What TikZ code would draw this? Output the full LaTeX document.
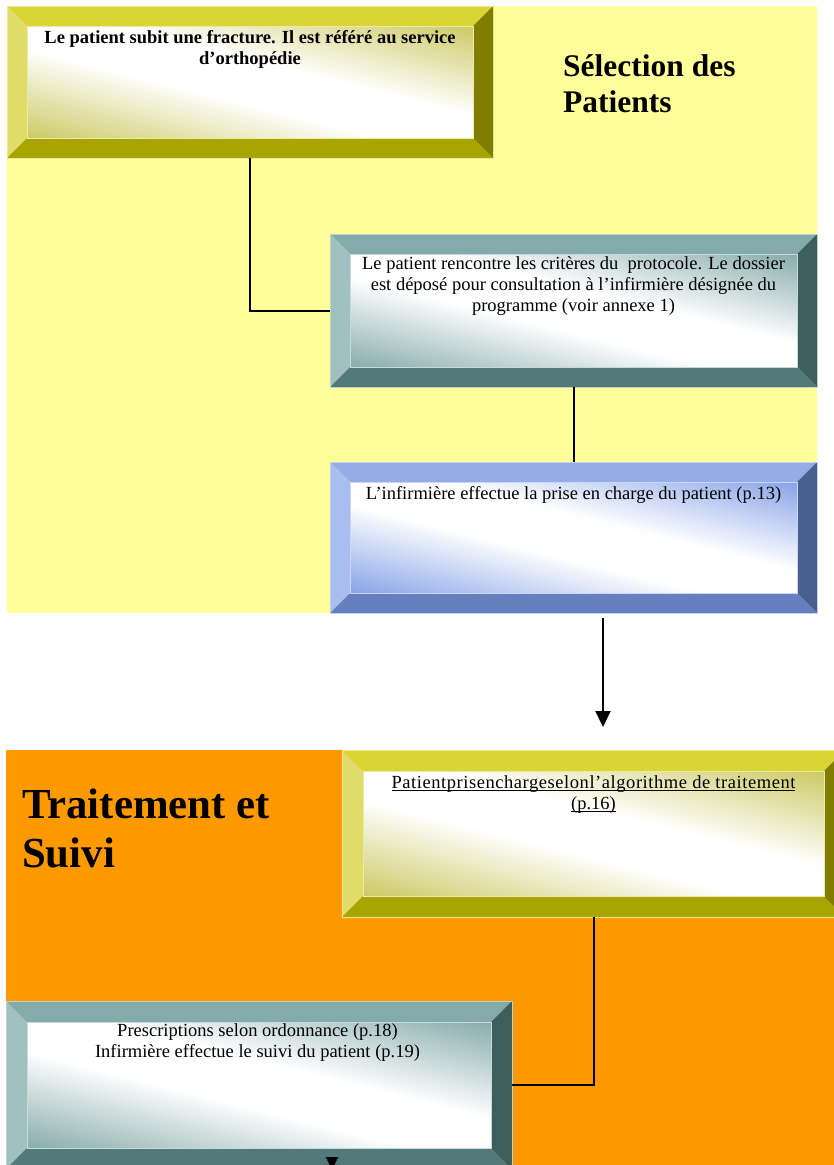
\documentclass[tikz,border=0pt]{standalone}
\usepackage{fontspec}
\setmainfont{Liberation Serif}
\usetikzlibrary{calc,arrows.meta}
\definecolor{bgyellow}{HTML}{FFFF99}
\definecolor{bgorange}{HTML}{FF9900}
\definecolor{oT}{HTML}{D9D633}
\definecolor{oL}{HTML}{E0DC68}
\definecolor{oB}{HTML}{A8A500}
\definecolor{oR}{HTML}{807D00}
\definecolor{oF}{HTML}{C9C65A}
\definecolor{tT}{HTML}{84ABAB}
\definecolor{tL}{HTML}{A1C1C1}
\definecolor{tB}{HTML}{527A7A}
\definecolor{tR}{HTML}{3E5E5E}
\definecolor{tF}{HTML}{80A6A6}
\definecolor{uT}{HTML}{94ACE8}
\definecolor{uL}{HTML}{A9BDF0}
\definecolor{uB}{HTML}{6680BF}
\definecolor{uR}{HTML}{4A5E8F}
\definecolor{uF}{HTML}{7F9DE6}
\colorlet{facetint}{oF}
\pgfdeclareverticalshading[facetint]{bevface}{100bp}{color(0bp)=(facetint); color(18bp)=(facetint); color(44bp)=(white); color(56bp)=(white); color(82bp)=(facetint); color(100bp)=(facetint)}
% #1 node name, #2 top, #3 left, #4 bottom, #5 right, #6 face tint, #7 bevel width
\newcommand\bevelbox[7]{%
  \fill[#2] (#1.north west) -- (#1.north east) -- ($(#1.north east)+(-#7,#7)$) -- ($(#1.north west)+(#7,#7)$) -- cycle;
  \fill[#3] (#1.north west) -- ($(#1.north west)+(#7,#7)$) -- ($(#1.south west)+(#7,-#7)$) -- (#1.south west) -- cycle;
  \fill[#4] (#1.south west) -- ($(#1.south west)+(#7,-#7)$) -- ($(#1.south east)+(-#7,-#7)$) -- (#1.south east) -- cycle;
  \fill[#5] (#1.north east) -- ($(#1.north east)+(-#7,#7)$) -- ($(#1.south east)+(-#7,-#7)$) -- (#1.south east) -- cycle;
  \colorlet{facetint}{#6}%
  \shade[shading=bevface, shading angle=-14]
    ($(#1.north west)+(#7,#7)$) rectangle ($(#1.south east)+(-#7,-#7)$);
  \draw[#3!60!white, line width=0.7pt] ($(#1.north west)+(#7,#7)$) rectangle ($(#1.south east)+(-#7,-#7)$);
  \draw[#3!70!white, line width=0.8pt] (#1.north west) rectangle (#1.south east);
}
\newcommand\myul[1]{\setbox0\hbox{#1}\rlap{\rule[-2.8pt]{\wd0}{0.9pt}}\box0}
\begin{document}
\begin{tikzpicture}[x=1pt,y=-1pt,
  box/.style={rectangle,draw=none,inner sep=0pt,outer sep=0pt},
  conn/.style={draw=black,line width=2pt},
  txt/.style={anchor=north,inner sep=0pt,align=center,font=\fontsize{18.5}{21.3}\selectfont},
  head/.style={anchor=north west,inner sep=0pt,align=left}]
\useasboundingbox (0,0) rectangle (834,1165);
\clip (0,0) rectangle (834,1165);
\fill[bgyellow] (7,6) rectangle (817,613);
\fill[bgorange] (6,750) rectangle (834,1165);

\node[box,minimum width=486pt,minimum height=152pt] (b1) at (250,82) {};
\node[box,minimum width=487pt,minimum height=153pt] (b2) at (573.5,310.5) {};
\node[box,minimum width=487pt,minimum height=151pt] (b3) at (573.5,537.5) {};
\node[box,minimum width=503pt,minimum height=167pt] (b4) at (593.5,833.5) {};
\node[box,minimum width=506pt,minimum height=168pt] (b5) at (259,1085) {};

\bevelbox{b1}{oT}{oL}{oB}{oR}{oF}{20}
\bevelbox{b2}{tT}{tL}{tB}{tR}{tF}{20}
\bevelbox{b3}{uT}{uL}{uB}{uR}{uF}{20}
\bevelbox{b4}{oT}{oL}{oB}{oR}{oF}{21}
\bevelbox{b5}{tT}{tL}{tB}{tR}{tF}{21}

\node[txt,font=\fontsize{18.5}{21.3}\selectfont\bfseries] (t1) at (250,30)
  {\rule{0pt}{13pt}Le patient subit une fracture. Il est référé au service\\d’orthopédie};
\node[txt] (t2) at (573.5,256)
  {\rule{0pt}{13pt}Le patient rencontre les critères du~~protocole. Le dossier\\est déposé pour consultation à l’infirmière désignée du\\programme (voir annexe 1)};
\node[txt] (t3) at (573.5,486)
  {\rule{0pt}{13pt}L’infirmière effectue la prise en charge du patient (p.13)};
\node[txt] (t4) at (593.5,775)
  {\rule{0pt}{13pt}{\addfontfeatures{LetterSpace=3}\myul{Patientprisenchargeselonl’algorithme de traitement}}\\\myul{(p.16)}};
\node[txt] (t5) at (257.5,1023)
  {\rule{0pt}{13pt}Prescriptions selon ordonnance (p.18)\\Infirmière effectue le suivi du patient (p.19)};

\node[head,font=\fontsize{31.5}{36.2}\selectfont\bfseries] (h1) at (563,54)
  {\rule{0pt}{22pt}Sélection des\\Patients};
\node[head,font=\fontsize{42.8}{49}\selectfont\bfseries] (h2) at (22,789)
  {\rule{0pt}{29pt}Traitement et\\Suivi};

\draw[conn] (b1.south) |- (b2.west);
\draw[conn] (b2.south) -- (b3.north);
\coordinate (a1) at (603,618);
\coordinate (a2) at (603,727);
\draw[conn,-{Triangle[width=15pt,length=16pt]}] (a1) -- (a2);
\draw[conn] (b4.south) |- (b5.east);
\coordinate (a3) at (332,1157);
\coordinate (a4) at (332,1170);
\draw[conn,-{Triangle[width=12pt,length=13pt]}] (a3) -- (a4);
\end{tikzpicture}
\end{document}
